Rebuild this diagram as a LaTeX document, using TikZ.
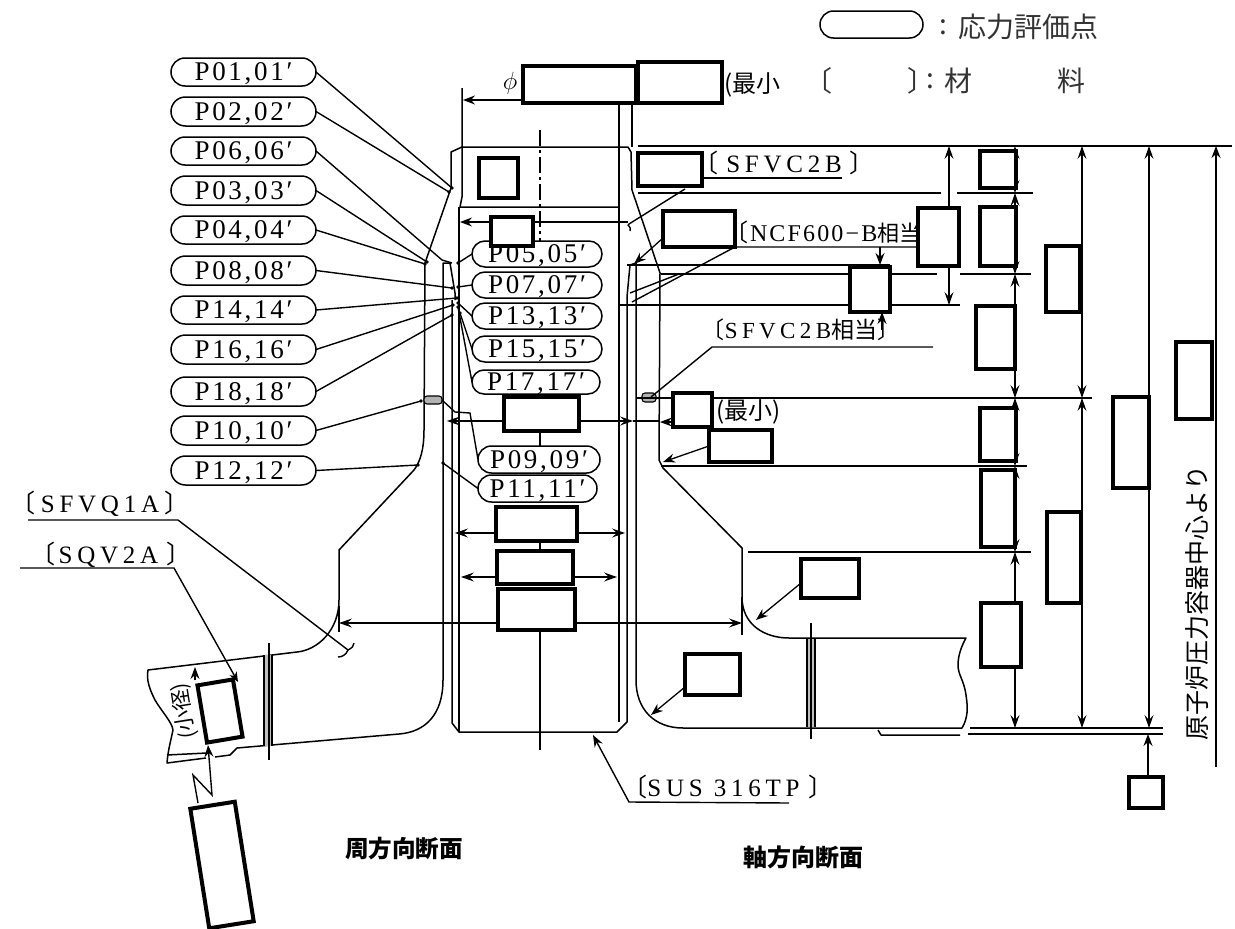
\documentclass[tikz,border=0pt]{standalone}
\usepackage{fontspec}
\usetikzlibrary{arrows.meta,shapes.misc,calc}
\newfontfamily\labf[LetterSpace=10]{Liberation Serif}
\newfontfamily\matf[LetterSpace=19]{Liberation Serif}
\newfontfamily\matg[LetterSpace=9]{Liberation Serif}
\newfontfamily\cjkf{Noto Sans CJK JP}
\pgfdeclarelayer{front}
\pgfsetlayers{main,front}
\tikzset{
 art/.style={line width=1.5pt,black,line join=round},
 thin art/.style={line width=1.1pt,black},
 dimline/.style={line width=1.2pt,black,{Stealth[length=13pt,width=9pt,inset=5pt]}-{Stealth[length=13pt,width=9pt,inset=5pt]}},
 tiparrow/.style={line width=1.3pt,black,-{Stealth[length=12pt,width=9pt,inset=4pt]}},
 lead/.style={line width=1.4pt,black},
 pill/.style={draw,line width=1.5pt,rounded rectangle,fill=white,inner sep=0pt,outer sep=0pt,font=\labf\fontsize{27}{27}\selectfont,text depth=0pt},
 redact/.style={draw,line width=4pt,fill=white,inner sep=0pt,outer sep=0pt},
 lab/.style={inner sep=0pt,outer sep=0pt,font=\matf\fontsize{25}{25}\selectfont},
 jp/.style={inner sep=0pt,outer sep=0pt,font=\cjkf\fontsize{24}{24}\selectfont},
 legend/.style={inner sep=0pt,outer sep=0pt,font=\cjkf\fontsize{28}{28}\selectfont,text=black!80},
}
\newcommand{\Pill}[6]{\node[pill,minimum width={(#4-#2)*1pt},minimum height={(#5-#3)*1pt}] (#1) at ({(#2+#4)/2},{(#3+#5)/2}) {#6};}
\newcommand{\Rbox}[5]{\node[redact,minimum width={(#4-#2)*1pt},minimum height={(#5-#3)*1pt}] (#1) at ({(#2+#4)/2},{(#3+#5)/2}) {};}
\begin{document}
\begin{tikzpicture}[x=1pt,y=-1pt]
\useasboundingbox (0,0) rectangle (1235,929);
\fill[white] (0,0) rectangle (1235,929);
\coordinate (H) at (0,734);
\begin{pgfonlayer}{front}
\Pill{legendpill}{820}{11}{923}{38}{}
\Pill{p01}{171}{58}{316}{86}{P01,01′}
\Pill{p02}{171}{97}{316}{126}{P02,02′}
\Pill{p06}{171}{137}{316}{165}{P06,06′}
\Pill{p03}{171}{176}{316}{205}{P03,03′}
\Pill{p04}{171}{216}{316}{244}{P04,04′}
\Pill{p08}{171}{256}{316}{285}{P08,08′}
\Pill{p14}{171}{296}{316}{324}{P14,14′}
\Pill{p16}{171}{335}{316}{364}{P16,16′}
\Pill{p18}{171}{377}{316}{406}{P18,18′}
\Pill{p10}{171}{416}{316}{445}{P10,10′}
\Pill{p12}{171}{456}{316}{485}{P12,12′}
\Pill{p05}{472}{241}{602}{267}{P05,05′}
\Pill{p07}{472}{272}{602}{298}{P07,07′}
\Pill{p13}{472}{303}{602}{329}{P13,13′}
\Pill{p15}{472}{336}{602}{362}{P15,15′}
\Pill{p17}{472}{370}{600}{394}{P17,17′}
\Pill{p09}{478}{446}{600}{473}{P09,09′}
\Pill{p11}{478}{475}{597}{502}{P11,11′}
\Rbox{b1}{523}{66}{636}{103}
\Rbox{b2}{638}{62}{722}{103}
\Rbox{b3}{479}{158}{518}{198}
\Rbox{b4}{638}{153}{702}{186}
\Rbox{b5}{491}{217}{533}{246}
\Rbox{b6}{663}{211}{735}{247}
\Rbox{b7}{918}{208}{959}{266}
\Rbox{b8}{980}{151}{1016}{188}
\Rbox{b9}{980}{207}{1016}{266}
\Rbox{b10}{850}{267}{890}{312}
\Rbox{b11}{1046}{246}{1080}{312}
\Rbox{b12}{976}{306}{1015}{369}
\Rbox{b13}{1176}{342}{1212}{419}
\Rbox{b14}{504}{397}{579}{431}
\Rbox{b15}{673}{393}{712}{427}
\Rbox{b16}{709}{430}{772}{462}
\Rbox{b17}{980}{408}{1016}{461}
\Rbox{b18}{1113}{397}{1149}{488}
\Rbox{b19}{981}{470}{1015}{547}
\Rbox{b20}{1047}{512}{1081}{603}
\Rbox{b21}{496}{507}{577}{541}
\Rbox{b22}{497}{551}{573}{584}
\Rbox{b23}{498}{589}{575}{630}
\Rbox{b24}{801}{559}{859}{598}
\Rbox{b25}{981}{603}{1021}{667}
\Rbox{b26}{685}{654}{740}{695}
\Rbox{b27}{1129}{777}{1163}{808}
\node[redact,minimum width=36pt,minimum height=58pt,rotate=9.5] (b28) at (220,711) {};
\node[redact,minimum width=45pt,minimum height=121pt,rotate=9] (b29) at (222,865) {};
\end{pgfonlayer}
% ---- outline, circumferential side + tube
\draw[art] (462,147) -- (451,152) -- (451,188) -- (425,263) -- (424,430)
  .. controls (424,450) and (420,462) .. (414,470) -- (339,550) -- (339,600)
  .. controls (339,630) and (318,650) .. (297,652) -- (148,670)
  .. controls (146,680) and (150,690) .. (155,700)
  .. controls (162,712) and (172,722) .. (173,730)
  .. controls (171,740) and (168,750) .. (167,763) -- (206,758);
\draw[art] (167,755) -- (207,753);
\draw[art] (215,757) -- (230,755) -- (237,748) -- (399,734)
  .. controls (425,732) and (443,715) .. (443,680) -- (443,263) -- (450,263) -- (455,293) -- (455,300);
\draw[art] (452,300) -- (452,723) -- (459,732) -- (617,732) -- (627,722) -- (627,297) -- (630,265) -- (636,263) -- (636,680)
  .. controls (636,710) and (655,728) .. (683,728) -- (962,728)
  .. controls (968,718) and (968,708) .. (966,695)
  .. controls (964,680) and (958,675) .. (958,665)
  .. controls (958,655) and (962,645) .. (966,638) -- (789,638)
  .. controls (765,638) and (742,625) .. (742,597) -- (742,548) -- (663,468) -- (659,460) -- (660,273) -- (632,190) -- (631,152) -- (628,147) -- (462,147);
\draw[art] (459,207) -- (459,732);
\draw[art] (462,88) -- (462,197) -- (460,207) -- (619,207);
\draw[thin art] (619,103) -- (619,722);
\draw[thin art] (632,103) -- (632,147);
\draw[art] (878,730) -- (881,735) -- (960,735);
% girth welds
\fill[black!25] (264,655) rectangle (272,746);
\draw[thin art] (264,655) -- (264,746) (272,655) -- (272,746);
\draw[thin art] (269,643) -- (269,760);
\fill[black!25] (807,639) rectangle (815,727);
\draw[thin art] (807,639) -- (807,727) (815,639) -- (815,727);
\draw[thin art] (811,623) -- (811,739);
% attachment marks
\draw[thin art,fill=black!30,rounded corners=3pt] (424,396) rectangle (442,404);
\draw[thin art,fill=black!30,rounded corners=3pt] (642,393) rectangle (656,402);
% centre line
\draw[thin art,dash pattern=on 16pt off 4pt on 3pt off 4pt] (540,130) -- (540,245);
\draw[thin art] (540,431) -- (540,446) (540,541) -- (540,551) (540,630) -- (540,750);
% horizontal datum lines
\coordinate (ltT) at (638,146);\coordinate (rtT) at (1232,146);
\draw[art] (ltT) -- (rtT);
\draw[art] (638,193) -- (941,193) (957,193) -- (1033,193);
\draw[art] (627,265) -- (890,265);
\draw[art] (661,274) -- (937,274) (960,274) -- (1031,274);
\draw[art] (620,305) -- (960,305);
\draw[art] (636,398) -- (1092,398);
\draw[art] (661,466) -- (1027,466);
\draw[art] (748,552) -- (1031,552);
\draw[art] (970,728) -- (1163,728);
\draw[art] (968,734) -- (1163,734);
% vertical dimensions
\foreach \a/\b in {146/193,193/274,274/398,398/466,466/552,552/728}
  \draw[dimline] (1015,\a) -- (1015,\b);
\draw[dimline] (1082,146) -- (1082,398);
\draw[dimline] (1082,398) -- (1082,728);
\draw[dimline] (1149,146) -- (1149,728);
\draw[tiparrow] (b27.north -| 1148,0) -- (H -| 1148,0);
\coordinate (vtop) at (1216,146);\coordinate (vbot) at (1216,767);
\draw[tiparrow] (vbot) -- (vtop);
\draw[dimline] (949,146) -- (949,305);
\draw[tiparrow] (880,247) -- (880,265);
\draw[tiparrow] (882,330) -- (882,312);
% horizontal dimensions
\coordinate (wl) at (463,100);\draw[tiparrow] (b1.west |- wl) -- (wl);
\coordinate (w2) at (460,222);\draw[tiparrow] (b5.west |- w2) -- (w2);
\draw[thin art] (b5.east |- w2) -- (628,222);
\coordinate (wl3) at (447,421);\coordinate (wr3) at (633,421);
\draw[dimline] (wl3) -- (wr3);
\coordinate (w4) at (660,422);\draw[tiparrow] (b15.west |- w4) -- (w4);
\draw[thin art] (633,421) -- (660,421);
\draw[dimline] (455,533) -- (625,533);
\draw[dimline] (461,577) -- (617,577);
\draw[dimline] (339,623) -- (742,623);
\draw[thin art] (339,606) -- (339,632);
\draw[thin art] (742,597) -- (742,635);
% pointers from the boxes
\coordinate (t24) at (756,620);\draw[tiparrow] (b24.south west) ++(0,-15) -- (t24);
\coordinate (t26) at (651,715);\draw[tiparrow] (b26.south west) ++(0,-8) -- (t26);
\coordinate (t16) at (663,462);\draw[tiparrow] (b16.west) -- (t16);
\coordinate (t6) at (634,264);\draw[tiparrow] (b6.south west) ++(0,-9) -- (t6);
% leaders of stress points
\foreach \n/\x/\y in {p01/452/188,p02/449/192,p03/427/262,p04/425/264,p08/452/288,p14/457/298,p16/453/305,p18/452/315,p10/421/401,p12/418/465}
 {\coordinate (t\n) at (\x,\y);\draw[lead] (\n.east) -- (t\n);\fill (t\n) circle[radius=1.8pt];}
\coordinate (tp06a) at (442,260);\coordinate (tp06b) at (452,263);
\draw[lead] (p06.east) -- (tp06a) -- (tp06b);
\foreach \n/\x/\y in {p05/458/263,p07/458/287,p13/458/303,p15/460/313,p17/458/307,p11/443/463}
 {\coordinate (t\n) at (\x,\y);\draw[lead] (\n.west) -- (t\n);\fill (t\n) circle[radius=1.8pt];}
\coordinate (k1) at (470,413);\coordinate (k2) at (455,412);\coordinate (k3) at (442,400);
\draw[lead] (p09.west) -- (k1) -- (k2) -- (k3);
% material labels & leaders
\node[lab] (m1) at (784,163) {{\cjkf〔}\kern8pt SFVC2B\kern8pt{\cjkf〕}};
\coordinate (m1a) at (842,178);\coordinate (m1b) at (685,189);\coordinate (m1c) at (629,224);
\draw[lead] (m1a) -- (b4.east |- m1a);
\draw[lead] (m1b) -- (m1c) .. controls (626,226) and (632,226) .. (630,231);
\node[lab,anchor=west,font=\matg\fontsize{24}{24}\selectfont] (m2) at (724,232) {{\cjkf〔}\kern2pt NCF600−B{\cjkf\fontsize{22}{22}\selectfont 相当}};
\coordinate (m2a) at (919,247);\coordinate (m2b) at (632,302);\coordinate (m2c) at (679,274);\coordinate (m2d) at (630,293);
\draw[lead] (m2a) -- (b6.east |- m2a) -- (m2b);
\draw[lead] (m2c) -- (m2d);
\node[lab,font=\matf\fontsize{23}{23}\selectfont] (m3) at (801,330) {{\cjkf〔}SFVC2B{\cjkf 相当〕}};
\coordinate (m3a) at (933,347);\coordinate (m3b) at (712,347);\coordinate (m3c) at (651,397);
\draw[lead] (m3a) -- (m3b) -- (m3c);
\node[lab] (m4) at (728,787) {{\cjkf〔}SUS 316TP\kern9pt{\cjkf〕}};
\coordinate (m4a) at (789,803);\coordinate (m4b) at (629,802);\coordinate (m4c) at (593,735);
\draw[lead,-{Stealth[length=12pt,width=9pt,inset=4pt]}] (m4a) -- (m4b) -- (m4c);
\node[lab] (m5) at (100,504) {{\cjkf〔}\kern5pt SFVQ1A\kern5pt{\cjkf〕}};
\coordinate (m5a) at (28,520);\coordinate (m5b) at (178,520);\coordinate (m5c) at (348,650);
\draw[lead] (m5a) -- (m5b) -- (m5c) .. controls (352,648) and (354,646) .. (354,643);
\draw[lead] (m5c) .. controls (346,655) and (342,657) .. (338,657);
\node[lab] (m6) at (111,555) {{\cjkf〔}\kern3pt SQV2A\kern8pt{\cjkf〕}};
\coordinate (m6a) at (20,568);\coordinate (m6b) at (174,568);\coordinate (m6c) at (238,682);
\draw[lead,-{Stealth[length=10pt,width=8pt,inset=3pt]}] (m6a) -- (m6b) -- (m6c);
% left wall thickness arrows with rotated label
\node[jp,rotate=99,font=\cjkf\fontsize{21}{21}\selectfont] (sm) at (184,711) {(小径)};
\coordinate (u1) at (195,680);\coordinate (u2) at (195,667);
\draw[tiparrow] (u1) -- (u2);
\coordinate (z0) at (198,803);\coordinate (z1) at (212,795);\coordinate (z2) at (193,775);\coordinate (z3) at (208,745);
\draw[lead,-{Stealth[length=12pt,width=9pt,inset=4pt]}] (z0) -- (z2) -- (z1) -- (z3);
% other text
\node[inner sep=0pt,font=\fontsize{24}{24}\selectfont] (phi) at (510,83) {$\phi$};
\node[jp,anchor=west] (q1) at (724,85) {(最小};
\node[jp,anchor=west] (q2) at (716,412) {(最小)};
\node[jp,font=\cjkf\bfseries\fontsize{23.6}{24}\selectfont] (s1) at (404,849) {周方向断面};
\node[jp,font=\cjkf\bfseries\fontsize{24}{24}\selectfont] (s2) at (803,857) {軸方向断面};
\node[jp,rotate=90,font=\cjkf\fontsize{25}{25}\selectfont] (vt) at (1197,603) {原子炉圧力容器中心より};
% legend
\node[legend] (l1a) at (943,27) {:};
\node[legend,anchor=west] (l1) at (958,27) {応力評価点};
\node[legend] (l2a) at (818,81) {〔};
\node[legend,anchor=west] (l2b) at (907,81) {〕\kern-14pt};
\node[legend] (l2c) at (930,81) {:};
\node[legend] (l2d) at (958,81) {材};
\node[legend] (l2e) at (1071,81) {料};
\end{tikzpicture}
\end{document}
